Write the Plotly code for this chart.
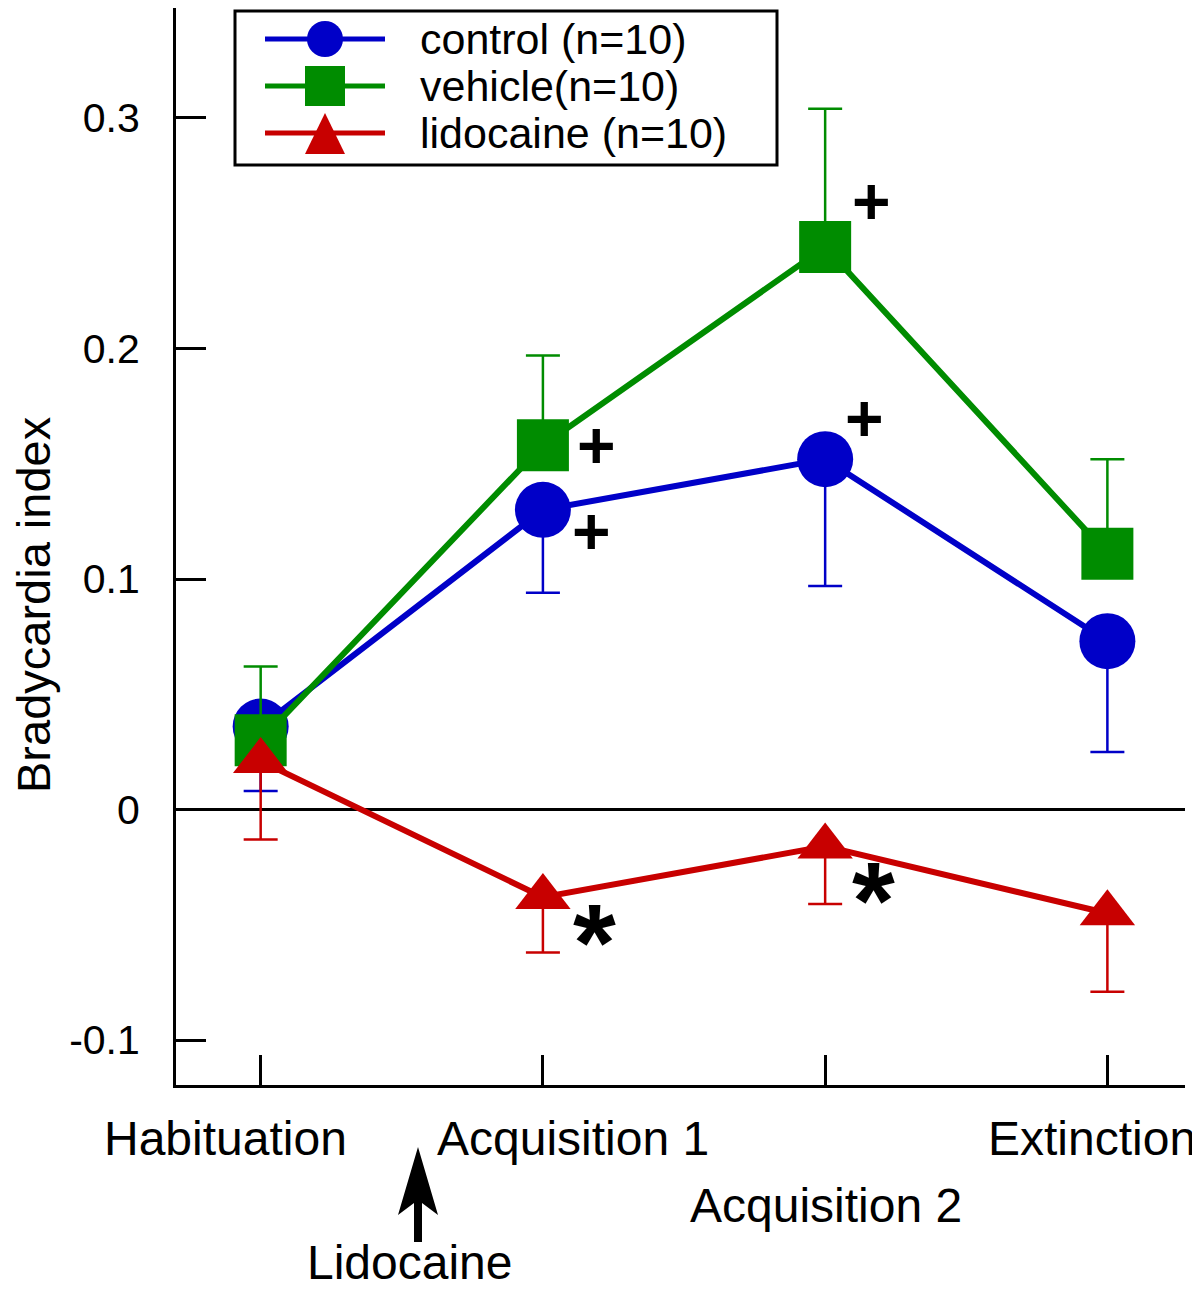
import plotly.graph_objects as go

# phases on the x axis
phases = ["Habituation", "Acquisition 1", "Acquisition 2", "Extinction"]
xpos = [0, 1, 2, 3]

# group means and SEM (one-sided bars as in the figure)
control = [0.036, 0.130, 0.152, 0.073]
control_err = [0.028, 0.036, 0.055, 0.048]
vehicle = [0.030, 0.158, 0.244, 0.111]
vehicle_err = [0.032, 0.039, 0.060, 0.041]
lidocaine = [0.021, -0.038, -0.016, -0.045]
lidocaine_err = [0.034, 0.024, 0.025, 0.034]

names = ["control (n=10)", "vehicle(n=10)", "lidocaine (n=10)"]
colors = ["#0000c8", "#008c00", "#c80000"]

ytick_vals = [-0.1, 0, 0.1, 0.2, 0.3]
ytick_text = ["-0.1", "0", "0.1", "0.2", "0.3"]

FONT = "Liberation Sans"

# the page adds an 8px body margin, so the figure is drawn 8px smaller
# and its plot area is placed so that it lands on these page pixels
OFF = 8
PL, PR, PT, PB = 176, 1185, 8, 1085
W, H = 1200 - OFF, 1289 - OFF


def fx(px):
    return (px - PL) / (PR - PL)


def fy(py):
    return (PB - py) / (PB - PT)


fig = go.Figure()

series = [
    (control, control_err, "circle", 56, "down"),
    (vehicle, vehicle_err, "square", 52, "up"),
    (lidocaine, lidocaine_err, "triangle-up", 48, "down"),
]
for i, (vals, err, sym, size, side) in enumerate(series):
    zeros = [0] * len(err)
    fig.add_trace(go.Scatter(
        x=xpos, y=vals, name=names[i], mode="lines+markers",
        line=dict(color=colors[i], width=6),
        marker=dict(symbol=sym, size=size, color=colors[i]),
        error_y=dict(type="data", symmetric=False,
                     array=err if side == "up" else zeros,
                     arrayminus=zeros if side == "up" else err,
                     color=colors[i], thickness=2.5, width=17),
        showlegend=False,
    ))

shapes = []
annotations = []

# legend box
shapes.append(dict(type="rect", xref="paper", yref="paper",
                   x0=fx(235), x1=fx(777), y0=fy(165), y1=fy(11),
                   line=dict(color="black", width=3), fillcolor="white", layer="above"))
rows = [39, 86, 133]
for i, ry in enumerate(rows):
    shapes.append(dict(type="line", xref="paper", yref="paper",
                       x0=fx(265), x1=fx(385), y0=fy(ry), y1=fy(ry),
                       line=dict(color=colors[i], width=5), layer="above"))
    annotations.append(dict(text=names[i], xref="paper", yref="paper",
                            x=fx(418), y=fy(ry), xanchor="left", yanchor="middle",
                            showarrow=False, font=dict(size=43, color="black", family=FONT)))
shapes.append(dict(type="circle", xref="paper", yref="paper",
                   x0=fx(307), x1=fx(343), y0=fy(57), y1=fy(21),
                   fillcolor=colors[0], line=dict(width=0), layer="above"))
shapes.append(dict(type="rect", xref="paper", yref="paper",
                   x0=fx(305), x1=fx(345), y0=fy(106), y1=fy(66),
                   fillcolor=colors[1], line=dict(width=0), layer="above"))
tri = "M {},{} L {},{} L {},{} Z".format(fx(325), fy(113), fx(345), fy(154), fx(305), fy(154))
shapes.append(dict(type="path", xref="paper", yref="paper", path=tri,
                   fillcolor=colors[2], line=dict(width=0), layer="above"))

# x category labels, staggered as in the original
label_pos = [(-0.125, 1138, "center"), (1.107, 1138, "center"),
             (2.004, 1205, "center"), (2.57, 1138, "left")]
for name, (lx, ly, anc) in zip(phases, label_pos):
    annotations.append(dict(text=name, xref="x", yref="paper", x=lx, y=fy(ly),
                            xanchor=anc, yanchor="middle", showarrow=False,
                            font=dict(size=48, color="black", family=FONT)))

# lidocaine injection arrow
head = "M {},{} L {},{} L {},{} L {},{} Z".format(
    fx(418), fy(1147), fx(438), fy(1215), fx(418), fy(1200), fx(398), fy(1215))
shapes.append(dict(type="path", xref="paper", yref="paper", path=head,
                   fillcolor="black", line=dict(width=0)))
shapes.append(dict(type="line", xref="paper", yref="paper",
                   x0=fx(418), x1=fx(418), y0=fy(1200), y1=fy(1242),
                   line=dict(color="black", width=8)))
annotations.append(dict(text="Lidocaine", xref="paper", yref="paper",
                        x=fx(410), y=fy(1262), xanchor="center", yanchor="middle",
                        showarrow=False, font=dict(size=48, color="black", family=FONT)))

# y axis title
annotations.append(dict(text="Bradycardia index", xref="paper", yref="paper",
                        x=fx(33), y=fy(605), textangle=-90, xanchor="center",
                        yanchor="middle", showarrow=False,
                        font=dict(size=47, color="black", family=FONT)))

# significance marks
marks = [("+", 2.165, 0.264), ("+", 1.19, 0.158), ("+", 1.173, 0.121), ("+", 2.14, 0.170),
         ("*", 1.183, -0.0535), ("*", 2.17, -0.035)]
for sym, mx, my in marks:
    annotations.append(dict(text="<b>" + sym + "</b>", xref="x", yref="y", x=mx, y=my,
                            showarrow=False, xanchor="center", yanchor="middle",
                            yshift=-9 if sym == "*" else 0,
                            font=dict(size=66 if sym == "+" else 110, color="black", family=FONT)))

fig.update_layout(
    width=W, height=H, autosize=False,
    margin=dict(l=PL - OFF, r=1200 - PR, t=PT - OFF, b=1289 - PB),
    plot_bgcolor="white", paper_bgcolor="white",
    font=dict(family=FONT, color="black"),
    shapes=shapes, annotations=annotations,
    xaxis=dict(range=[-0.3, 3.275], tickvals=xpos, showticklabels=False,
               ticks="inside", ticklen=30, tickwidth=3, tickcolor="black",
               showline=True, linecolor="black", linewidth=3,
               showgrid=False, zeroline=False),
    yaxis=dict(range=[-0.1195, 0.3477], tickvals=ytick_vals, ticktext=ytick_text,
               ticks="inside", ticklen=30, tickwidth=3, tickcolor="black",
               ticklabelstandoff=25,
               tickfont=dict(size=41, color="black", family=FONT),
               showline=True, linecolor="black", linewidth=3,
               showgrid=False, zeroline=True, zerolinecolor="black", zerolinewidth=2.5),
)

fig.write_html("out.html")
